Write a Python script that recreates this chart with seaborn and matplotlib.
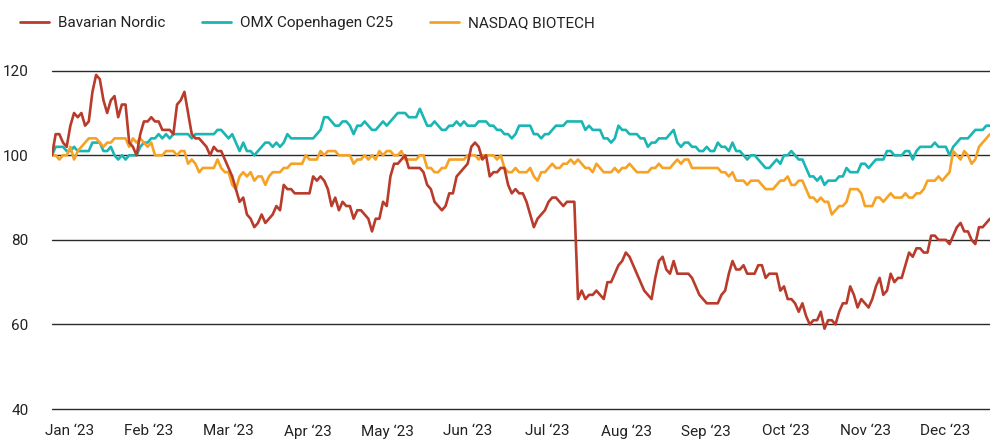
import numpy as np
import pandas as pd
import matplotlib
matplotlib.use('Agg')
import matplotlib.pyplot as plt
import seaborn as sns

# Index 100 = start of 2023, one value per trading day
series_names = ['Bavarian Nordic', 'OMX Copenhagen C25', 'NASDAQ BIOTECH']

bavarian = [
    100, 105, 105, 103, 102, 107, 110, 109, 110, 107, 108, 115, 119, 118, 113, 110,
    113, 114, 109, 112, 112, 103, 102, 100, 105, 108, 108, 109, 108, 108, 106, 106,
    106, 105, 112, 113, 115, 110, 105, 104, 104, 103, 102, 100, 102, 101, 101, 99,
    97, 95, 92, 89, 90, 86, 85, 83, 84, 86, 84, 85, 86, 88, 87, 93,
    92, 92, 91, 91, 91, 91, 91, 95, 94, 95, 94, 92, 88, 90, 87, 89,
    88, 88, 85, 87, 87, 86, 85, 82, 85, 85, 89, 88, 95, 98, 98, 99,
    100, 97, 97, 97, 97, 96, 93, 92, 89, 88, 87, 88, 91, 91, 95, 96,
    97, 98, 102, 103, 102, 99, 100, 95, 96, 96, 97, 97, 93, 91, 92, 91,
    91, 89, 86, 83, 85, 86, 87, 89, 90, 90, 89, 88, 89, 89, 89, 66,
    68, 66, 67, 67, 68, 67, 66, 70, 70, 72, 74, 75, 77, 76, 74, 72,
    70, 68, 67, 66, 71, 75, 76, 73, 72, 75, 72, 72, 72, 72, 71, 69,
    67, 66, 65, 65, 65, 65, 67, 68, 72, 75, 73, 73, 74, 72, 72, 72,
    74, 74, 71, 72, 72, 72, 68, 69, 66, 66, 65, 63, 65, 62, 60, 61,
    61, 63, 59, 61, 61, 60, 63, 65, 65, 69, 67, 64, 66, 65, 64, 66,
    69, 71, 67, 68, 72, 70, 71, 71, 74, 77, 76, 78, 78, 77, 77, 81,
    81, 80, 80, 80, 79, 81, 83, 84, 82, 82, 80, 79, 83, 83, 84, 85,
]

omx_c25 = [
    100, 102, 102, 102, 101, 101, 102, 101, 101, 101, 101, 103, 103, 103, 101, 101,
    102, 100, 99, 100, 99, 100, 100, 100, 102, 103, 103, 104, 104, 105, 104, 105,
    104, 105, 105, 105, 105, 105, 104, 105, 105, 105, 105, 105, 105, 106, 106, 105,
    104, 105, 103, 101, 103, 101, 101, 100, 101, 102, 103, 103, 102, 103, 102, 103,
    105, 104, 104, 104, 104, 104, 104, 104, 105, 106, 109, 109, 108, 107, 107, 108,
    108, 107, 105, 107, 107, 108, 107, 106, 106, 107, 108, 107, 108, 109, 110, 110,
    110, 109, 109, 109, 111, 109, 107, 107, 108, 107, 106, 106, 107, 107, 108, 107,
    108, 107, 107, 107, 108, 108, 108, 107, 107, 106, 106, 105, 105, 104, 105, 107,
    107, 107, 107, 105, 105, 104, 105, 105, 106, 107, 107, 107, 108, 108, 108, 108,
    108, 106, 107, 106, 106, 106, 104, 104, 103, 104, 107, 106, 106, 105, 105, 105,
    104, 104, 102, 103, 103, 104, 104, 104, 105, 106, 103, 102, 103, 103, 102, 102,
    101, 101, 102, 101, 101, 103, 102, 102, 101, 103, 101, 101, 100, 99, 100, 100,
    99, 98, 97, 97, 98, 99, 98, 100, 100, 101, 100, 99, 99, 97, 95, 95,
    94, 95, 93, 94, 94, 94, 95, 95, 97, 96, 96, 96, 98, 98, 97, 98,
    99, 99, 99, 101, 101, 100, 100, 100, 101, 101, 99, 101, 102, 102, 102, 102,
    103, 102, 102, 102, 100, 102, 103, 104, 104, 104, 105, 106, 106, 106, 107, 107,
]

nasdaq_biotech = [
    100, 100, 99, 100, 100, 102, 99, 101, 102, 103, 104, 104, 104, 103, 102, 103,
    103, 104, 104, 104, 104, 102, 104, 103, 104, 103, 102, 103, 100, 100, 100, 101,
    101, 101, 100, 101, 101, 98, 99, 98, 96, 97, 97, 97, 97, 99, 97, 96,
    96, 93, 92, 95, 96, 95, 96, 94, 95, 95, 93, 95, 96, 96, 96, 97,
    97, 98, 98, 98, 98, 100, 99, 99, 99, 101, 100, 101, 101, 101, 100, 100,
    100, 100, 98, 99, 99, 100, 99, 100, 99, 101, 100, 101, 101, 100, 100, 101,
    99, 99, 99, 99, 100, 100, 97, 97, 96, 96, 97, 97, 99, 99, 99, 99,
    99, 100, 100, 100, 99, 100, 100, 100, 100, 99, 100, 97, 96, 96, 97, 96,
    96, 96, 97, 95, 94, 96, 96, 97, 98, 97, 97, 98, 98, 99, 98, 99,
    98, 97, 97, 96, 98, 97, 96, 96, 96, 97, 96, 97, 97, 98, 97, 96,
    96, 96, 96, 97, 97, 98, 97, 97, 97, 98, 99, 98, 99, 99, 97, 97,
    97, 97, 97, 97, 97, 97, 96, 96, 95, 96, 94, 94, 94, 93, 94, 94,
    94, 93, 92, 92, 92, 93, 94, 94, 95, 93, 93, 94, 94, 92, 90, 90,
    89, 90, 89, 89, 86, 87, 88, 88, 89, 92, 92, 92, 91, 88, 88, 88,
    90, 90, 89, 90, 91, 90, 90, 90, 91, 90, 90, 91, 91, 92, 94, 94,
    94, 95, 94, 95, 96, 101, 100, 99, 101, 100, 98, 99, 102, 103, 104, 105,
]

month_labels = ['Jan ‘23', 'Feb ‘23', 'Mar ‘23', 'Apr ‘23', 'May ‘23', 'Jun ‘23',
                'Jul ‘23', 'Aug ‘23', 'Sep ‘23', 'Oct ‘23', 'Nov ‘23', 'Dec ‘23']
y_ticks = [40, 60, 80, 100, 120]

colors = ['#b83b2b', '#19b6b4', '#f6a224']

# long format for seaborn
frames = []
for name, vals in zip(series_names, [bavarian, omx_c25, nasdaq_biotech]):
    frames.append(pd.DataFrame({'day': np.arange(len(vals)), 'value': vals, 'series': name}))
df = pd.concat(frames, ignore_index=True)

sns.set_style('white')
plt.rcParams['font.family'] = ['Roboto', 'DejaVu Sans']

fig = plt.figure(figsize=(9.9, 4.43), dpi=100)
ax = fig.add_axes([0.0525, 0.0767, 0.9475, 0.7637])

for y in y_ticks:
    ax.axhline(y, color='#2a2a2a', lw=1.0, zorder=1, clip_on=False)

sns.lineplot(data=df, x='day', y='value', hue='series', hue_order=series_names,
             palette=colors, linewidth=1.9, estimator=None, ax=ax)

# red on top
lines = ax.get_lines()[len(y_ticks):]
for ln, z in zip(lines, [5, 3, 4]):
    ln.set_zorder(z)

ax.set_xlim(0, len(bavarian) - 1)
ax.set_ylim(40, 120)
ax.set_xlabel('')
ax.set_ylabel('')

# month labels evenly placed along the axis
n = len(bavarian) - 1
month_pos = [(17.5 + k * 79.6) / 938 * n for k in range(len(month_labels))]
ax.set_xticks(month_pos)
ax.set_xticklabels(month_labels)
ax.set_yticks(y_ticks)
ax.tick_params(axis='both', length=0, labelsize=11, colors='#222222')
ax.tick_params(axis='y', pad=17)
ax.tick_params(axis='x', pad=11)
sns.despine(ax=ax, left=True, bottom=True)

handles = [plt.Line2D([], [], color=c, lw=2.0) for c in colors]
ax.legend(handles, series_names, loc='upper left', bbox_to_anchor=(0.006, 0.995),
          bbox_transform=fig.transFigure, ncol=3, frameon=False, fontsize=11,
          handlelength=1.9, handletextpad=0.6, columnspacing=2.4, labelcolor='#222222')

fig.savefig('out.png', dpi=100)
